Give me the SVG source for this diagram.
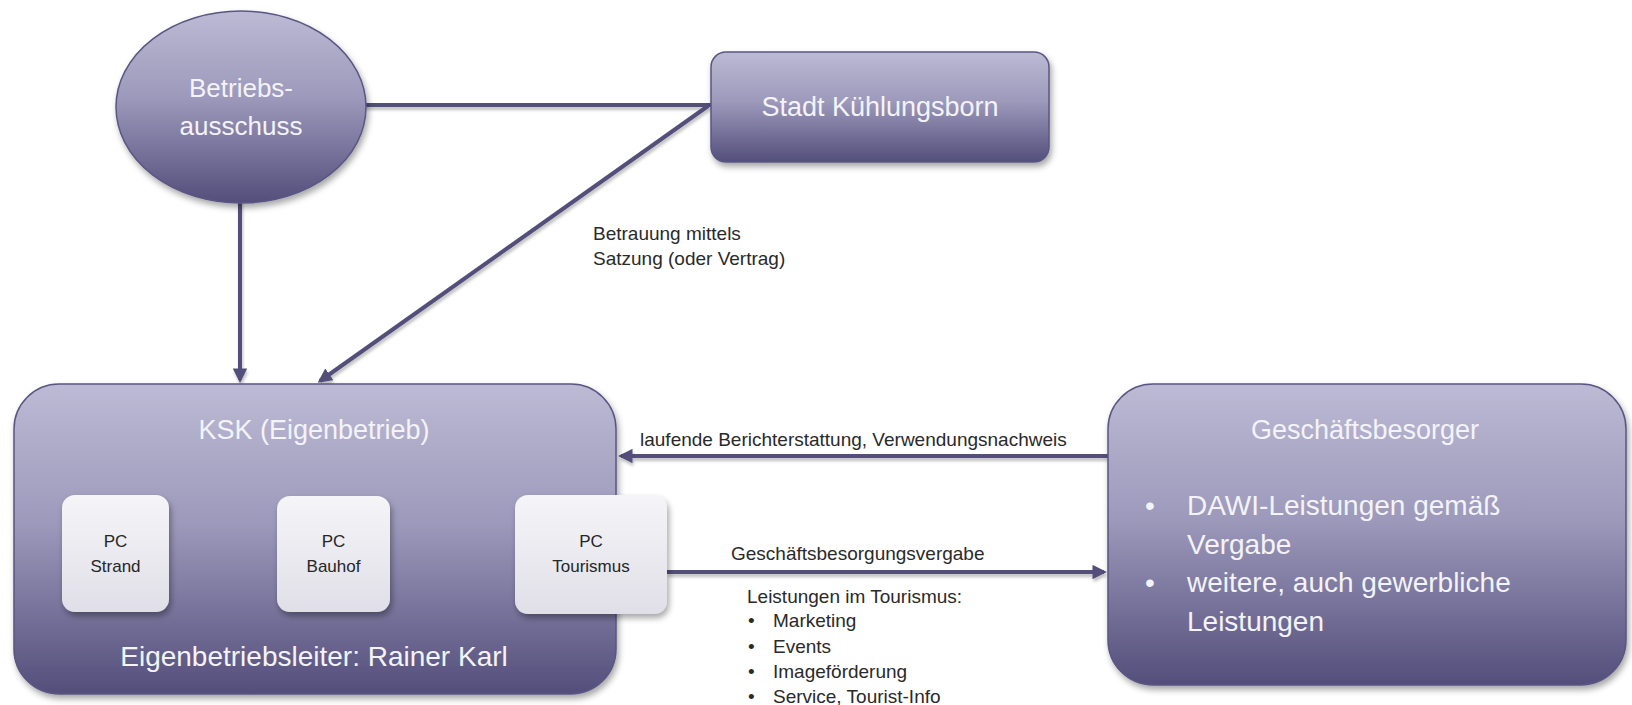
<svg xmlns="http://www.w3.org/2000/svg" width="1632" height="705" viewBox="0 0 1632 705">
<defs>
  <linearGradient id="gPurple" x1="0" y1="0" x2="0" y2="1">
    <stop offset="0" stop-color="#bcbad4"/>
    <stop offset="0.45" stop-color="#9d99bb"/>
    <stop offset="1" stop-color="#534e7b"/>
  </linearGradient>
  <linearGradient id="gPC" x1="0" y1="0" x2="0" y2="1">
    <stop offset="0" stop-color="#f5f5f8"/>
    <stop offset="1" stop-color="#e0dfe8"/>
  </linearGradient>
  <filter id="sh" x="-10%" y="-10%" width="125%" height="130%">
    <feDropShadow dx="2" dy="4" stdDeviation="3" flood-color="#000" flood-opacity="0.35"/>
  </filter>
  <filter id="lsh" filterUnits="userSpaceOnUse" x="0" y="0" width="1632" height="705">
    <feDropShadow dx="1" dy="3" stdDeviation="1.5" flood-color="#000" flood-opacity="0.25"/>
  </filter>
  <marker id="arr" viewBox="0 0 10 10" refX="8" refY="5" markerWidth="3.6" markerHeight="3.6" orient="auto" markerUnits="strokeWidth">
    <path d="M0,0 L10,5 L0,10 z" fill="#534f7a"/>
  </marker>
</defs>
<style>
  .node{fill:url(#gPurple);stroke:#5a5683;stroke-width:1.5;filter:url(#sh)}
  .pc{fill:url(#gPC);filter:url(#sh)}
  .conn{stroke:#534f7a;stroke-width:4;fill:none}
  .wt{font-family:"Liberation Sans",Arial,sans-serif;fill:#f3f3f8}
  .pct{font-family:"Liberation Sans",Arial,sans-serif;fill:#262626;font-size:17px;text-anchor:middle}
  .lbl{font-family:"Liberation Sans",Arial,sans-serif;fill:#2a2a2a;font-size:19px}
</style>

<g id="connectors" filter="url(#lsh)">
  <line class="conn" x1="360" y1="105" x2="712" y2="105"/>
  <line class="conn" x1="240" y1="200" x2="240" y2="380" marker-end="url(#arr)"/>
  <line class="conn" x1="708" y1="106" x2="320" y2="381" marker-end="url(#arr)"/>
  <line class="conn" x1="1108" y1="456" x2="621" y2="456" marker-end="url(#arr)"/>
  <line class="conn" x1="667" y1="572" x2="1104" y2="572" marker-end="url(#arr)"/>
</g>

<g id="betriebsausschuss">
  <ellipse class="node" cx="241" cy="107" rx="125" ry="96"/>
  <text class="wt" x="241" y="97" font-size="26" text-anchor="middle">Betriebs-</text>
  <text class="wt" x="241" y="135" font-size="26" text-anchor="middle">ausschuss</text>
</g>

<g id="stadt">
  <rect class="node" x="711" y="52" width="338" height="110" rx="15"/>
  <text class="wt" x="880" y="116" font-size="27" text-anchor="middle">Stadt Kühlungsborn</text>
</g>

<g id="ksk">
  <rect class="node" x="14" y="384" width="602" height="310" rx="45"/>
  <text class="wt" x="314" y="439" font-size="27" text-anchor="middle">KSK (Eigenbetrieb)</text>
  <text class="wt" x="314" y="666" font-size="28" text-anchor="middle">Eigenbetriebsleiter: Rainer Karl</text>
</g>

<g id="pc-strand">
  <rect class="pc" x="62" y="495" width="107" height="117" rx="13"/>
  <text class="pct" x="115.5" y="547">PC</text>
  <text class="pct" x="115.5" y="572">Strand</text>
</g>

<g id="pc-bauhof">
  <rect class="pc" x="277" y="496" width="113" height="116" rx="13"/>
  <text class="pct" x="333.5" y="547">PC</text>
  <text class="pct" x="333.5" y="572">Bauhof</text>
</g>

<g id="pc-tourismus">
  <rect class="pc" x="515" y="495" width="152" height="119" rx="13"/>
  <text class="pct" x="591" y="547">PC</text>
  <text class="pct" x="591" y="572">Tourismus</text>
</g>

<g id="geschaeftsbesorger">
  <rect class="node" x="1108" y="384" width="518" height="301" rx="45"/>
  <text class="wt" x="1365" y="439" font-size="27" text-anchor="middle">Geschäftsbesorger</text>
  <text class="wt" x="1145" y="515" font-size="28">•</text>
  <text class="wt" x="1187" y="515" font-size="28">DAWI-Leistungen gemäß</text>
  <text class="wt" x="1187" y="554" font-size="28">Vergabe</text>
  <text class="wt" x="1145" y="592" font-size="28">•</text>
  <text class="wt" x="1187" y="592" font-size="28">weitere, auch gewerbliche</text>
  <text class="wt" x="1187" y="631" font-size="28">Leistungen</text>
</g>

<g id="labels">
  <text class="lbl" x="593" y="240">Betrauung mittels</text>
  <text class="lbl" x="593" y="265">Satzung (oder Vertrag)</text>
  <text class="lbl" x="640" y="446">laufende Berichterstattung, Verwendungsnachweis</text>
  <text class="lbl" x="731" y="560">Geschäftsbesorgungsvergabe</text>
  <text class="lbl" x="747" y="603">Leistungen im Tourismus:</text>
  <text class="lbl" x="748" y="627">•</text>
  <text class="lbl" x="773" y="627">Marketing</text>
  <text class="lbl" x="748" y="653">•</text>
  <text class="lbl" x="773" y="653">Events</text>
  <text class="lbl" x="748" y="678">•</text>
  <text class="lbl" x="773" y="678">Imageförderung</text>
  <text class="lbl" x="748" y="703">•</text>
  <text class="lbl" x="773" y="703">Service, Tourist-Info</text>
</g>
</svg>
